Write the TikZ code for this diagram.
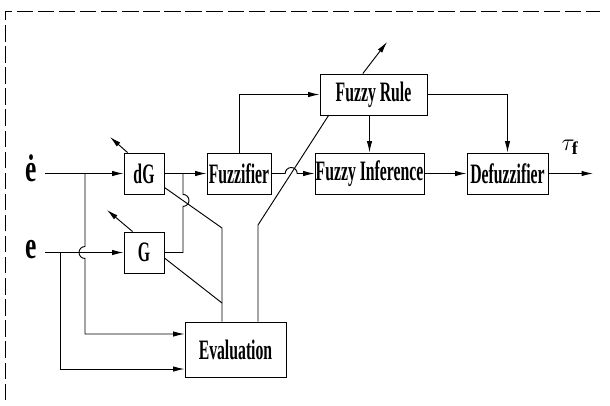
\documentclass[tikz,border=0pt]{standalone}
\usepackage{fontspec}
\setmainfont{Liberation Serif}
\newfontfamily\blockfont[FakeStretch=0.56]{Liberation Serif Bold}
\newfontfamily\signalfont[FakeStretch=0.66]{Liberation Serif Bold}
\usetikzlibrary{arrows.meta}

\begin{document}
\begin{tikzpicture}[x=0.3mm,y=-0.3mm,>={Latex[length=3.4mm,width=1.6mm]},
  line/.style={line width=0.8pt},
  block/.style={draw,line width=0.8pt,inner sep=0pt,minimum height=12.3mm,
    font=\blockfont\fontsize{24}{26}\selectfont},
  sig/.style={font=\signalfont\fontsize{33}{36}\selectfont}]
  \useasboundingbox (0,0) rectangle (610,405);
  \draw[line width=0.6pt,dash pattern=on 14pt off 4pt] (5,400) -- (5,11) -- (600,11);

  \node[block,minimum width=12mm] (dG) at (144,173.5) {dG};
  \node[block,minimum width=12mm] (G) at (144,252.5) {G};
  \node[block,minimum width=19.2mm] (Fuzz) at (239,173.5) {Fuzzifier};
  \node[block,minimum width=32.1mm] (FR) at (373.5,94.5) {Fuzzy Rule};
  \node[block,minimum width=32.7mm] (FI) at (369.5,173.5) {Fuzzy Inference};
  \node[block,minimum width=24.3mm] (Def) at (507.5,173.5) {Defuzzifier};
  \node[block,minimum width=30.3mm,minimum height=16.5mm] (Eval) at (235.5,349.5) {Evaluation};

  \node[sig] (edotlab) at (31,168) {\.{e}};
  \node[sig] (elab) at (31,250) {e};
  \node[font=\fontsize{22}{26}\selectfont] (taulab) at (570,147) {$\tau_{\mathbf f}$};

  % inputs and their taps to the evaluation block
  \coordinate (edin) at (45,173.5);
  \coordinate (ein) at (45,252.5);
  \coordinate (tapd) at (85,173.5);
  \coordinate (tape) at (60,252.5);
  \coordinate (evin1) at (85,334);
  \coordinate (evin2) at (60,369);
  \draw[line,->] (edin) -- (dG);
  \draw[line,->] (ein) -- (G);
  \draw[line,->] (tapd) -- (85,246.5) arc[start angle=90,end angle=270,radius=1.8mm]
    -- (evin1) -- (evin1 -| Eval.west);
  \draw[line,->] (tape) -- (evin2) -- (evin2 -| Eval.west);

  % G joins the dG output
  \coordinate (gout) at (183,252.5);
  \coordinate (jg) at (183,173.5);
  \draw[line] (G.east) -- (gout) -- (183,206.4) arc[start angle=-90,end angle=90,radius=1.8mm]
    -- (jg);
  \draw[line,->] (dG) -- (Fuzz);

  % feeds into the evaluation block
  \coordinate (m1) at (222,228);
  \coordinate (m2) at (222,303);
  \draw[line] ([yshift=2.1mm]dG.south east) -- (m1) -- (m1 |- Eval.north);
  \draw[line] ([yshift=-1.65mm]G.east) -- (m2);

  % evaluation tunes the rule base
  \coordinate (m3) at (258,225);
  \draw[line] (m3 |- Eval.north) -- (m3) -- ([xshift=2.7mm]FR.south west);

  \draw[line,->] (Fuzz) -- (285.2,173.5) arc[start angle=180,end angle=0,radius=1.8mm] -- (FI);
  \draw[line,->] (Fuzz.north) |- (FR.west);
  \draw[line,->] (FI.north |- FR.south) -- (FI.north);
  \draw[line,->] (FR.east) -| (Def.north);
  \draw[line,->] (FI) -- (Def);
  \coordinate (tauout) at (593,173.5);
  \draw[line,->] (Def) -- (tauout);

  % adjustable gains
  \coordinate (kd) at (110,137);
  \coordinate (kp) at (107,210);
  \coordinate (kr) at (387,42);
  \draw[line,->] ([xshift=1.2mm]dG.north west) -- (kd);
  \draw[line,->] ([xshift=2.7mm]G.north west) -- (kp);
  \draw[line,->] ([xshift=-3.2mm]FR.north) -- (kr);
\end{tikzpicture}
\end{document}
